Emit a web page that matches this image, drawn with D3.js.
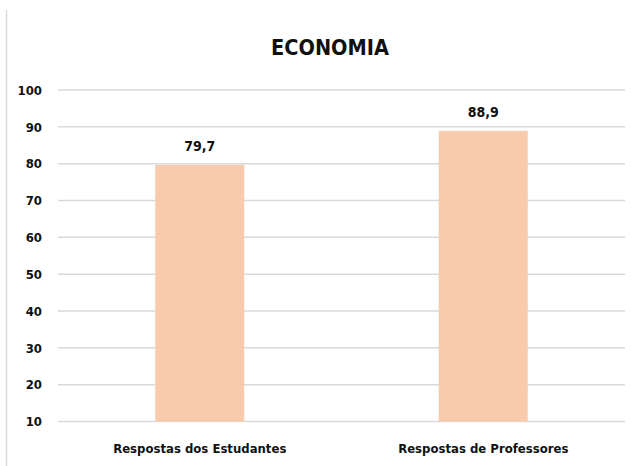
<!DOCTYPE html>
<html>
<head>
<meta charset="utf-8">
<script src="https://cdn.jsdelivr.net/npm/d3@7"></script>
<style>
  body { margin: 0; background: #fff; }
  svg text { font-family: "Liberation Sans Narrow", "DejaVu Sans Condensed", "Arial Narrow", sans-serif; fill: #111; }
</style>
</head>
<body>
<div id="chart"></div>
<script>
const categories = ["Respostas dos Estudantes", "Respostas de Professores"];
const values = [79.7, 88.9];
const valueLabels = ["79,7", "88,9"];
const yTicks = [10, 20, 30, 40, 50, 60, 70, 80, 90, 100];
const chartTitle = "ECONOMIA";

const W = 632, H = 466;
const margin = { top: 90, right: 7, bottom: 44.5, left: 58 };
const innerW = W - margin.left - margin.right;
const innerH = H - margin.top - margin.bottom;

const svg = d3.select("#chart").append("svg")
  .attr("width", W)
  .attr("height", H);

// bordure gauche de la zone du graphique
svg.append("line")
  .attr("x1", 6.5).attr("x2", 6.5)
  .attr("y1", 10).attr("y2", H)
  .attr("stroke", "#d9d9d9").attr("stroke-width", 1.5);

svg.append("text")
  .attr("x", 330)
  .attr("y", 55)
  .attr("text-anchor", "middle")
  .style("font-size", "21.5px")
  .style("font-weight", "bold")
  .text(chartTitle);

const g = svg.append("g")
  .attr("transform", `translate(${margin.left},${margin.top})`);

const y = d3.scaleLinear()
  .domain([10, 100])
  .range([innerH, 0]);

const x = d3.scaleBand()
  .domain(categories)
  .range([0, innerW])
  .paddingInner(0.686)
  .paddingOuter(0.343);

// grille
g.append("g")
  .selectAll("line")
  .data(yTicks)
  .join("line")
  .attr("x1", 0)
  .attr("x2", innerW)
  .attr("y1", (d) => y(d))
  .attr("y2", (d) => y(d))
  .attr("stroke", "#d9d9d9")
  .attr("stroke-width", 1.5);

// axe Y
const yAxis = g.append("g")
  .call(d3.axisLeft(y).tickValues(yTicks).tickSize(0).tickPadding(16));
yAxis.select(".domain").remove();
yAxis.selectAll("text")
  .style("font-size", "13px")
  .style("font-weight", "bold")
  .attr("fill", "#111");

// barres
g.selectAll("rect.bar")
  .data(values)
  .join("rect")
  .attr("class", "bar")
  .attr("x", (d, i) => x(categories[i]))
  .attr("width", x.bandwidth())
  .attr("y", (d) => y(d))
  .attr("height", (d) => y(10) - y(d))
  .attr("fill", "#f8cbad");

// étiquettes de valeurs
g.selectAll("text.val")
  .data(values)
  .join("text")
  .attr("class", "val")
  .attr("x", (d, i) => x(categories[i]) + x.bandwidth() / 2)
  .attr("y", (d) => y(d) - 14)
  .attr("text-anchor", "middle")
  .style("font-size", "14px")
  .style("font-weight", "bold")
  .text((d, i) => valueLabels[i]);

// axe X
const xAxis = g.append("g")
  .attr("transform", `translate(0,${innerH})`)
  .call(d3.axisBottom(x).tickSize(0).tickPadding(22));
xAxis.select(".domain").remove();
xAxis.selectAll("text")
  .style("font-size", "13px")
  .style("font-weight", "bold")
  .attr("fill", "#111");
</script>
</body>
</html>
